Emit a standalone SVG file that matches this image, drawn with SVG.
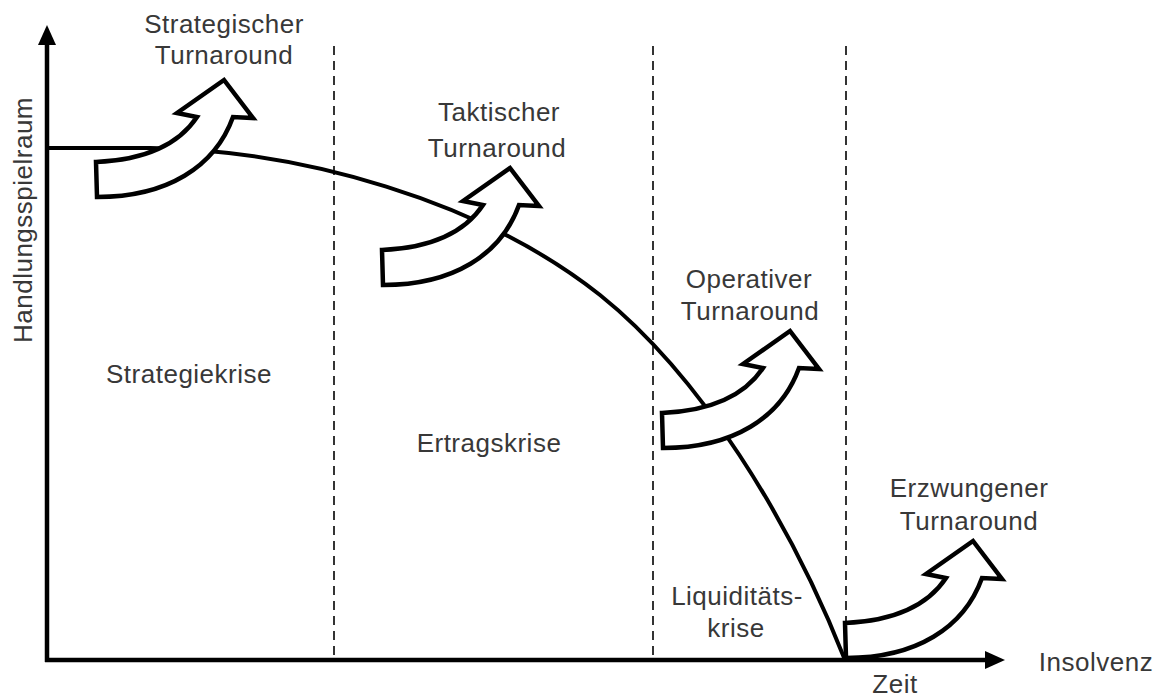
<svg xmlns="http://www.w3.org/2000/svg" width="1160" height="700" viewBox="0 0 1160 700">
  <style>
    .lbl { font-family: "Liberation Sans", Arial, sans-serif; font-size: 26px; fill: #383838; text-anchor: middle; letter-spacing: 0.5px; }
    .axis { stroke: #000; stroke-width: 4.5; fill: none; }
    .phase { stroke: #333; stroke-width: 2; stroke-dasharray: 9 6; fill: none; }
    .curve { stroke: #000; stroke-width: 4; fill: none; }
    .turn { fill: #fff; stroke: #000; stroke-width: 4.5; stroke-linejoin: miter; }
  </style>
  <defs>
    <!-- curved block arrow, origin at the lower-left corner of its tail -->
    <path id="turnArrow" class="turn"
      d="M 0,0 L -1,-35 C 45,-37 80,-50 100,-80 L 80,-84 L 127,-117 L 156,-79 L 136,-80 C 118,-30 70,0 0,0 Z"/>
  </defs>
  <rect width="1160" height="700" fill="#fff"/>

  <!-- phase boundaries -->
  <g id="phases">
    <line class="phase" x1="334" y1="46" x2="334" y2="658"/>
    <line class="phase" x1="653" y1="46" x2="653" y2="658"/>
    <line class="phase" x1="846" y1="46" x2="846" y2="658"/>
  </g>

  <!-- room for manoeuvre over time -->
  <g id="connectors">
    <path class="curve" d="M 46,148 L 150,148 C 300,150 480,200 600,295 C 700,375 790,520 845,660"/>
  </g>

  <!-- axes -->
  <g id="axes">
    <line class="axis" x1="47" y1="662" x2="47" y2="40"/>
    <polygon points="47,25 38,45 56,45" fill="#000"/>
    <line class="axis" x1="45" y1="660" x2="990" y2="660"/>
    <polygon points="1005,660 985,651 985,669" fill="#000"/>
    <text class="lbl" transform="translate(32,220) rotate(-90)">Handlungsspielraum</text>
    <text class="lbl" x="1096" y="671">Insolvenz</text>
    <text class="lbl" x="895" y="693">Zeit</text>
  </g>

  <!-- phase labels -->
  <g id="strategiekrise"><text class="lbl" x="189" y="383">Strategiekrise</text></g>
  <g id="ertragskrise"><text class="lbl" x="489" y="452">Ertragskrise</text></g>
  <g id="liquiditaetskrise">
    <text class="lbl" x="737" y="605">Liquiditäts-</text>
    <text class="lbl" x="736" y="637">krise</text>
  </g>

  <!-- turnaround arrows -->
  <g id="strategischer-turnaround">
    <use href="#turnArrow" transform="translate(97,197)"/>
    <text class="lbl" x="224" y="33">Strategischer</text>
    <text class="lbl" x="224" y="64">Turnaround</text>
  </g>
  <g id="taktischer-turnaround">
    <use href="#turnArrow" transform="translate(383,285)"/>
    <text class="lbl" x="499" y="121">Taktischer</text>
    <text class="lbl" x="497" y="157">Turnaround</text>
  </g>
  <g id="operativer-turnaround">
    <use href="#turnArrow" transform="translate(663,448)"/>
    <text class="lbl" x="749" y="288">Operativer</text>
    <text class="lbl" x="750" y="320">Turnaround</text>
  </g>
  <g id="erzwungener-turnaround">
    <use href="#turnArrow" transform="translate(846,658)"/>
    <text class="lbl" x="969" y="497">Erzwungener</text>
    <text class="lbl" x="969" y="530">Turnaround</text>
  </g>
</svg>
